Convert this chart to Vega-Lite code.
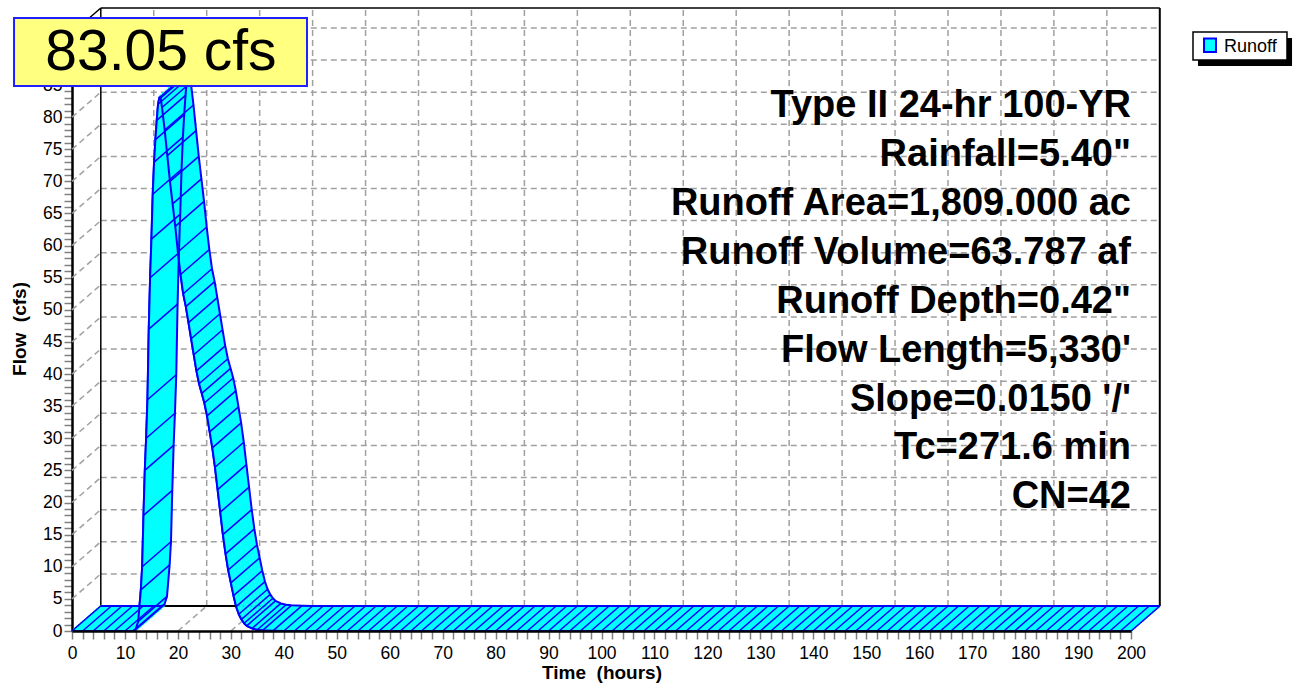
{
"$schema": "https://vega.github.io/schema/vega-lite/v6.json",
"width": 1059, "height": 598,
"autosize": {"type": "none"},
"padding": {"left": 72, "top": 33, "right": 163, "bottom": 54},
"background": "white",
"config": {"font": "Liberation Sans", "view": {"stroke": null}, "axis": {"grid": false}},
"data": {"values": [{}]},
"datasets": {
"runoff": [
{"hours":0,"cfs":0},{"hours":2,"cfs":0},{"hours":4,"cfs":0},{"hours":6,"cfs":0},{"hours":8,"cfs":0},{"hours":10,"cfs":0},{"hours":11.5,"cfs":0},
{"hours":12,"cfs":0.2},{"hours":12.5,"cfs":1.5},{"hours":13,"cfs":6.4},{"hours":13.25,"cfs":10},{"hours":13.5,"cfs":18},{"hours":13.75,"cfs":25},
{"hours":14,"cfs":30},{"hours":14.25,"cfs":36},{"hours":14.5,"cfs":47},{"hours":14.75,"cfs":55},{"hours":15,"cfs":61},{"hours":15.25,"cfs":68},
{"hours":15.5,"cfs":73},{"hours":15.75,"cfs":76.5},{"hours":16,"cfs":79.5},{"hours":16.25,"cfs":82},{"hours":16.5,"cfs":83.05},{"hours":16.75,"cfs":83},
{"hours":17,"cfs":81.5},{"hours":17.5,"cfs":78},{"hours":18,"cfs":74},{"hours":18.5,"cfs":70},{"hours":19,"cfs":66.5},{"hours":19.5,"cfs":63},
{"hours":20,"cfs":59},{"hours":20.5,"cfs":55.5},{"hours":21,"cfs":52.5},{"hours":21.5,"cfs":50.5},{"hours":22,"cfs":48},{"hours":22.5,"cfs":45.5},
{"hours":23,"cfs":43},{"hours":23.5,"cfs":40.5},{"hours":24,"cfs":38.5},{"hours":24.5,"cfs":37},{"hours":25,"cfs":35.5},{"hours":25.5,"cfs":33.5},
{"hours":26,"cfs":31},{"hours":26.5,"cfs":28.5},{"hours":27,"cfs":25.5},{"hours":27.5,"cfs":22},{"hours":28,"cfs":18.5},{"hours":28.5,"cfs":15},
{"hours":29,"cfs":12},{"hours":29.5,"cfs":9.5},{"hours":30,"cfs":7.5},{"hours":30.5,"cfs":5.5},{"hours":31,"cfs":3.8},{"hours":31.5,"cfs":2.6},
{"hours":32,"cfs":1.8},{"hours":32.5,"cfs":1.2},{"hours":33,"cfs":0.8},{"hours":34,"cfs":0.4},{"hours":35,"cfs":0.2},{"hours":36,"cfs":0.1},{"hours":38,"cfs":0.05},
{"hours":40,"cfs":0},{"hours":42,"cfs":0},{"hours":44,"cfs":0},{"hours":46,"cfs":0},{"hours":48,"cfs":0},{"hours":50,"cfs":0},{"hours":52,"cfs":0},{"hours":54,"cfs":0},
{"hours":56,"cfs":0},{"hours":58,"cfs":0},{"hours":60,"cfs":0},{"hours":62,"cfs":0},{"hours":64,"cfs":0},{"hours":66,"cfs":0},{"hours":68,"cfs":0},{"hours":70,"cfs":0},
{"hours":72,"cfs":0},{"hours":74,"cfs":0},{"hours":76,"cfs":0},{"hours":78,"cfs":0},{"hours":80,"cfs":0},{"hours":82,"cfs":0},{"hours":84,"cfs":0},{"hours":86,"cfs":0},
{"hours":88,"cfs":0},{"hours":90,"cfs":0},{"hours":92,"cfs":0},{"hours":94,"cfs":0},{"hours":96,"cfs":0},{"hours":98,"cfs":0},{"hours":100,"cfs":0},{"hours":102,"cfs":0},
{"hours":104,"cfs":0},{"hours":106,"cfs":0},{"hours":108,"cfs":0},{"hours":110,"cfs":0},{"hours":112,"cfs":0},{"hours":114,"cfs":0},{"hours":116,"cfs":0},{"hours":118,"cfs":0},
{"hours":120,"cfs":0},{"hours":122,"cfs":0},{"hours":124,"cfs":0},{"hours":126,"cfs":0},{"hours":128,"cfs":0},{"hours":130,"cfs":0},{"hours":132,"cfs":0},{"hours":134,"cfs":0},
{"hours":136,"cfs":0},{"hours":138,"cfs":0},{"hours":140,"cfs":0},{"hours":142,"cfs":0},{"hours":144,"cfs":0},{"hours":146,"cfs":0},{"hours":148,"cfs":0},{"hours":150,"cfs":0},
{"hours":152,"cfs":0},{"hours":154,"cfs":0},{"hours":156,"cfs":0},{"hours":158,"cfs":0},{"hours":160,"cfs":0},{"hours":162,"cfs":0},{"hours":164,"cfs":0},{"hours":166,"cfs":0},
{"hours":168,"cfs":0},{"hours":170,"cfs":0},{"hours":172,"cfs":0},{"hours":174,"cfs":0},{"hours":176,"cfs":0},{"hours":178,"cfs":0},{"hours":180,"cfs":0},{"hours":182,"cfs":0},
{"hours":184,"cfs":0},{"hours":186,"cfs":0},{"hours":188,"cfs":0},{"hours":190,"cfs":0},{"hours":192,"cfs":0},{"hours":194,"cfs":0},{"hours":196,"cfs":0},{"hours":198,"cfs":0},
{"hours":200,"cfs":0}
],
"xgrid": [{"hours":10},{"hours":20},{"hours":30},{"hours":40},{"hours":50},{"hours":60},{"hours":70},{"hours":80},{"hours":90},{"hours":100},{"hours":110},{"hours":120},{"hours":130},{"hours":140},{"hours":150},{"hours":160},{"hours":170},{"hours":180},{"hours":190}],
"ygrid": [{"cfs":5},{"cfs":10},{"cfs":15},{"cfs":20},{"cfs":25},{"cfs":30},{"cfs":35},{"cfs":40},{"cfs":45},{"cfs":50},{"cfs":55},{"cfs":60},{"cfs":65},{"cfs":70},{"cfs":75},{"cfs":80},{"cfs":85},{"cfs":90}],
"info": [{"text": "Type II 24-hr 100-YR\nRainfall=5.40\"\nRunoff Area=1,809.000 ac\nRunoff Volume=63.787 af\nRunoff Depth=0.42\"\nFlow Length=5,330'\nSlope=0.0150 '/'\nTc=271.6 min\nCN=42"}],
"peak": [{"label": "83.05 cfs", "hours": 16.8}],
"legend": [{"series": "Runoff"}]
},
"layer": [
{"data": {"name": "runoff"}, "mark": {"type": "line", "stroke": "#0000FF", "strokeWidth": 2, "strokeJoin": "round"},
 "encoding": {
  "x": {"field": "hours", "type": "quantitative", "scale": {"domain": [0, 200], "nice": false, "zero": false},
   "axis": {"orient": "bottom", "title": "Time\u00a0\u00a0(hours)", "tickCount": 100, "labelExpr": "datum.value % 10 === 0 ? datum.label : ''",
    "labelOverlap": false, "labelFlush": false, "labelFontSize": 17.5, "labelFont": "Liberation Sans", "labelColor": "black", "labelPadding": 5,
    "domainColor": "black", "domainWidth": 2.5, "tickColor": "#808080", "tickWidth": 1.5, "tickSize": 8, "grid": false,
    "titleFontSize": 19, "titleFont": "Liberation Sans", "titleFontWeight": "bold", "titleColor": "black", "titleX": 529.5, "titleY": 47, "titleBaseline": "alphabetic", "titleAlign": "center",
    "zindex": 1,
    "encode": {"ticks": {"update": {"y2": {"signal": "datum.value % 10 === 0 ? 8 : 4"}}}}}},
  "y": {"field": "cfs", "type": "quantitative", "scale": {"domain": [0, 93.1], "nice": false, "zero": false},
   "axis": {"orient": "left", "title": "Flow\u00a0\u00a0(cfs)", "tickCount": 94, "labelExpr": "datum.value % 5 === 0 && datum.value < 90 ? datum.label : ''",
    "labelOverlap": false, "labelFlush": false, "labelFontSize": 17.5, "labelFont": "Liberation Sans", "labelColor": "black", "labelPadding": 2,
    "domainColor": "black", "domainWidth": 2.5, "tickColor": "#808080", "tickWidth": 1.5, "tickSize": 8, "grid": false,
    "titleFontSize": 19, "titleFont": "Liberation Sans", "titleFontWeight": "bold", "titleColor": "black", "titleX": -47, "titleY": 295.5, "titleAngle": 270, "titleBaseline": "alphabetic", "titleAlign": "center",
    "zindex": 0,
    "encode": {"ticks": {"update": {"x2": {"signal": "datum.value % 5 === 0 ? -8 : -4"}}}}}}}},
{"data": {"name": "xgrid"}, "mark": {"type": "rule", "stroke": "#A0A0A0", "strokeWidth": 1.5, "strokeDash": [6, 4], "xOffset": 28.8, "yOffset": -25, "y2Offset": -25},
 "encoding": {"x": {"field": "hours", "type": "quantitative"}, "y": {"datum": 0, "type": "quantitative"}, "y2": {"datum": 93.1}}},
{"data": {"name": "ygrid"}, "mark": {"type": "rule", "stroke": "#A0A0A0", "strokeWidth": 1.5, "strokeDash": [6, 4], "xOffset": 28.8, "x2Offset": 28.8, "yOffset": -25},
 "encoding": {"y": {"field": "cfs", "type": "quantitative"}, "x": {"datum": 0, "type": "quantitative"}, "x2": {"datum": 200}}},
{"data": {"name": "ygrid"}, "mark": {"type": "rule", "stroke": "#A0A0A0", "strokeWidth": 1.5, "strokeDash": [6, 4], "x2Offset": 28.8, "y2Offset": -25},
 "encoding": {"y": {"field": "cfs", "type": "quantitative"}, "x": {"datum": 0, "type": "quantitative"}, "x2": {"datum": 0}, "y2": {"field": "cfs"}}},
{"data": {"name": "xgrid"}, "mark": {"type": "rule", "stroke": "#A0A0A0", "strokeWidth": 1.5, "strokeDash": [6, 4], "x2Offset": 28.8, "y2Offset": -25},
 "encoding": {"x": {"field": "hours", "type": "quantitative"}, "y": {"datum": 0, "type": "quantitative"}, "x2": {"field": "hours"}, "y2": {"datum": 0}}},
{"mark": {"type": "rule", "stroke": "black", "strokeWidth": 1.5, "xOffset": 28.8, "yOffset": -25, "y2Offset": -25},
 "encoding": {"x": {"datum": 0, "type": "quantitative"}, "y": {"datum": 0, "type": "quantitative"}, "y2": {"datum": 93.1}}},
{"mark": {"type": "rule", "stroke": "black", "strokeWidth": 2, "xOffset": 28.8, "yOffset": -25, "y2Offset": -25},
 "encoding": {"x": {"datum": 200, "type": "quantitative"}, "y": {"datum": 0, "type": "quantitative"}, "y2": {"datum": 93.1}}},
{"mark": {"type": "rule", "stroke": "black", "strokeWidth": 1.5, "xOffset": 28.8, "x2Offset": 28.8, "yOffset": -25},
 "encoding": {"x": {"datum": 0, "type": "quantitative"}, "x2": {"datum": 200}, "y": {"datum": 93.1, "type": "quantitative"}}},
{"mark": {"type": "rule", "stroke": "black", "strokeWidth": 2, "xOffset": 28.8, "x2Offset": 28.8, "yOffset": -25},
 "encoding": {"x": {"datum": 0, "type": "quantitative"}, "x2": {"datum": 200}, "y": {"datum": 0, "type": "quantitative"}}},
{"mark": {"type": "rule", "stroke": "black", "strokeWidth": 1.5, "x2Offset": 28.8, "y2Offset": -25},
 "encoding": {"x": {"datum": 0, "type": "quantitative"}, "x2": {"datum": 0}, "y": {"datum": 93.1, "type": "quantitative"}, "y2": {"datum": 93.1}}},
{"mark": {"type": "rule", "stroke": "black", "strokeWidth": 1.5, "x2Offset": 28.8, "y2Offset": -25},
 "encoding": {"x": {"datum": 0, "type": "quantitative"}, "x2": {"datum": 0}, "y": {"datum": 0, "type": "quantitative"}, "y2": {"datum": 0}}},
{"mark": {"type": "rule", "stroke": "black", "strokeWidth": 1.5, "x2Offset": 28.8, "y2Offset": -25},
 "encoding": {"x": {"datum": 200, "type": "quantitative"}, "x2": {"datum": 200}, "y": {"datum": 0, "type": "quantitative"}, "y2": {"datum": 0}}},
{"data": {"name": "runoff"}, "mark": {"type": "line", "stroke": "#00FFFF", "strokeWidth": 3.6, "strokeJoin": "round", "xOffset": 27.36, "yOffset": -23.75}, "encoding": {"x": {"field": "hours", "type": "quantitative"}, "y": {"field": "cfs", "type": "quantitative"}}},
{"data": {"name": "runoff"}, "mark": {"type": "line", "stroke": "#00FFFF", "strokeWidth": 3.6, "strokeJoin": "round", "xOffset": 24.48, "yOffset": -21.25}, "encoding": {"x": {"field": "hours", "type": "quantitative"}, "y": {"field": "cfs", "type": "quantitative"}}},
{"data": {"name": "runoff"}, "mark": {"type": "line", "stroke": "#00FFFF", "strokeWidth": 3.6, "strokeJoin": "round", "xOffset": 21.6, "yOffset": -18.75}, "encoding": {"x": {"field": "hours", "type": "quantitative"}, "y": {"field": "cfs", "type": "quantitative"}}},
{"data": {"name": "runoff"}, "mark": {"type": "line", "stroke": "#00FFFF", "strokeWidth": 3.6, "strokeJoin": "round", "xOffset": 18.72, "yOffset": -16.25}, "encoding": {"x": {"field": "hours", "type": "quantitative"}, "y": {"field": "cfs", "type": "quantitative"}}},
{"data": {"name": "runoff"}, "mark": {"type": "line", "stroke": "#00FFFF", "strokeWidth": 3.6, "strokeJoin": "round", "xOffset": 15.84, "yOffset": -13.75}, "encoding": {"x": {"field": "hours", "type": "quantitative"}, "y": {"field": "cfs", "type": "quantitative"}}},
{"data": {"name": "runoff"}, "mark": {"type": "line", "stroke": "#00FFFF", "strokeWidth": 3.6, "strokeJoin": "round", "xOffset": 12.96, "yOffset": -11.25}, "encoding": {"x": {"field": "hours", "type": "quantitative"}, "y": {"field": "cfs", "type": "quantitative"}}},
{"data": {"name": "runoff"}, "mark": {"type": "line", "stroke": "#00FFFF", "strokeWidth": 3.6, "strokeJoin": "round", "xOffset": 10.08, "yOffset": -8.75}, "encoding": {"x": {"field": "hours", "type": "quantitative"}, "y": {"field": "cfs", "type": "quantitative"}}},
{"data": {"name": "runoff"}, "mark": {"type": "line", "stroke": "#00FFFF", "strokeWidth": 3.6, "strokeJoin": "round", "xOffset": 7.2, "yOffset": -6.25}, "encoding": {"x": {"field": "hours", "type": "quantitative"}, "y": {"field": "cfs", "type": "quantitative"}}},
{"data": {"name": "runoff"}, "mark": {"type": "line", "stroke": "#00FFFF", "strokeWidth": 3.6, "strokeJoin": "round", "xOffset": 4.32, "yOffset": -3.75}, "encoding": {"x": {"field": "hours", "type": "quantitative"}, "y": {"field": "cfs", "type": "quantitative"}}},
{"data": {"name": "runoff"}, "mark": {"type": "line", "stroke": "#00FFFF", "strokeWidth": 3.6, "strokeJoin": "round", "xOffset": 1.44, "yOffset": -1.25}, "encoding": {"x": {"field": "hours", "type": "quantitative"}, "y": {"field": "cfs", "type": "quantitative"}}},
{"data": {"name": "runoff"}, "mark": {"type": "rule", "stroke": "#0000FF", "strokeWidth": 1.5, "x2Offset": 28.8, "y2Offset": -25},
 "encoding": {"x": {"field": "hours", "type": "quantitative"}, "y": {"field": "cfs", "type": "quantitative"}, "x2": {"field": "hours"}, "y2": {"field": "cfs"}}},
{"data": {"name": "runoff"}, "mark": {"type": "line", "stroke": "#0000FF", "strokeWidth": 2, "strokeJoin": "round", "xOffset": 28.8, "yOffset": -25}, "encoding": {"x": {"field": "hours", "type": "quantitative"}, "y": {"field": "cfs", "type": "quantitative"}}},
{"data": {"name": "runoff"}, "mark": {"type": "line", "stroke": "#0000FF", "strokeWidth": 2, "strokeJoin": "round"}, "encoding": {"x": {"field": "hours", "type": "quantitative"}, "y": {"field": "cfs", "type": "quantitative"}}},
{"data": {"name": "info"}, "mark": {"type": "text", "align": "right", "baseline": "alphabetic", "fontSize": 38, "fontWeight": "bold", "font": "Liberation Sans", "lineBreak": "\n", "lineHeight": 48.9, "color": "black"},
 "encoding": {"x": {"datum": 200, "type": "quantitative"}, "y": {"datum": 80.0, "type": "quantitative"}, "text": {"field": "text"}}},
{"mark": {"type": "rect", "fill": "#FFFF80", "stroke": "#2020FF", "strokeWidth": 2},
 "encoding": {"x": {"datum": -10.95, "type": "quantitative"}, "x2": {"datum": 44.38}, "y": {"datum": 95.43, "type": "quantitative"}, "y2": {"datum": 84.85}}},
{"data": {"name": "peak"}, "mark": {"type": "text", "align": "center", "baseline": "alphabetic", "fontSize": 57, "font": "Liberation Sans", "color": "black"},
 "encoding": {"x": {"field": "hours", "type": "quantitative"}, "y": {"datum": 87.34, "type": "quantitative"}, "text": {"field": "label"}}},
{"mark": {"type": "rect", "fill": "black"},
 "encoding": {"x": {"datum": 212.65, "type": "quantitative"}, "x2": {"datum": 230.41}, "y": {"datum": 92.32, "type": "quantitative"}, "y2": {"datum": 87.96}}},
{"mark": {"type": "rect", "fill": "white", "stroke": "black", "strokeWidth": 1.5},
 "encoding": {"x": {"datum": 211.71, "type": "quantitative"}, "x2": {"datum": 229.46}, "y": {"datum": 93.25, "type": "quantitative"}, "y2": {"datum": 88.9}}},
{"mark": {"type": "rect", "fill": "#00FFFF", "stroke": "#0000FF", "strokeWidth": 2},
 "encoding": {"x": {"datum": 213.79, "type": "quantitative"}, "x2": {"datum": 216.05}, "y": {"datum": 92.23, "type": "quantitative"}, "y2": {"datum": 90.14}}},
{"data": {"name": "legend"}, "mark": {"type": "text", "align": "left", "baseline": "alphabetic", "fontSize": 18, "font": "Liberation Sans", "color": "black"},
 "encoding": {"x": {"datum": 217.56, "type": "quantitative"}, "y": {"datum": 90.14, "type": "quantitative"}, "text": {"field": "series"}}}
]
}
